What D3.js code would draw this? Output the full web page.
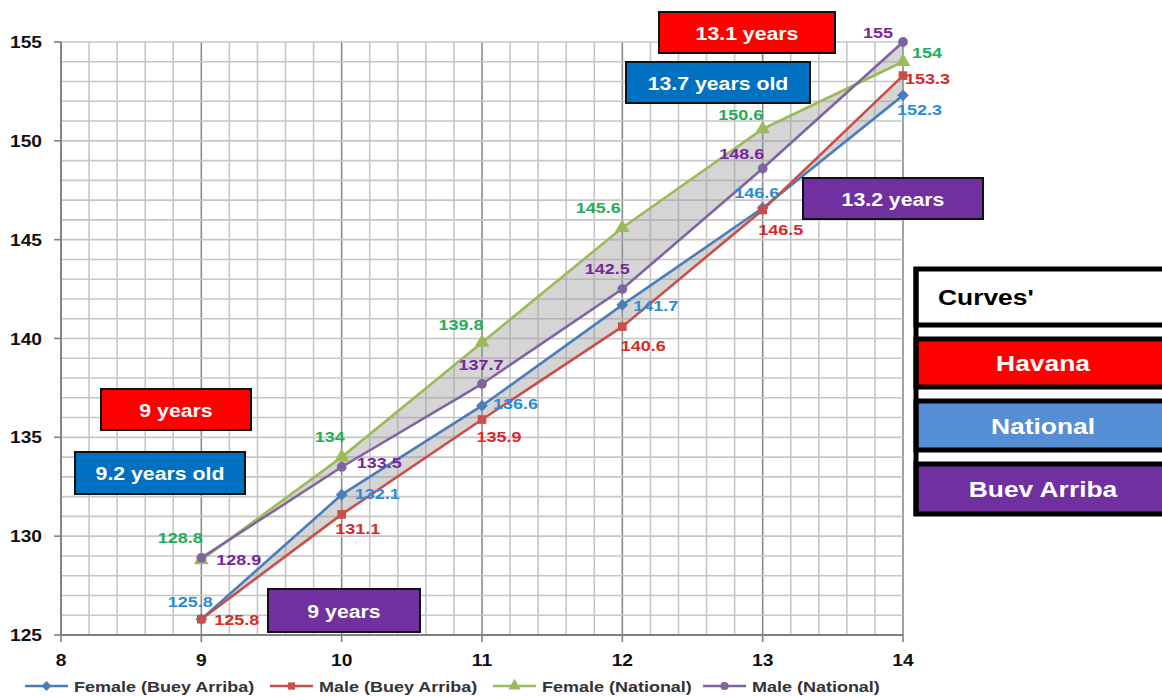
<!DOCTYPE html>
<html><head><meta charset="utf-8">
<script src="https://cdn.jsdelivr.net/npm/d3@7/dist/d3.min.js"></script>
<style>
html,body{margin:0;padding:0;background:#fff;}
svg{display:block;font-family:"Liberation Sans",Arial,sans-serif;}
</style></head>
<body>
<svg id="chart" width="1162" height="696"></svg>
<script>
// ---- data ----
const ages = [9, 10, 11, 12, 13, 14];
const femaleBA = [125.8, 132.1, 136.6, 141.7, 146.6, 152.3];
const maleBA   = [125.8, 131.1, 135.9, 140.6, 146.5, 153.3];
const femaleNat = [128.8, 134, 139.8, 145.6, 150.6, 154];
const maleNat   = [128.9, 133.5, 137.7, 142.5, 148.6, 155];
const seriesNames = ["Female (Buey Arriba)", "Male (Buey Arriba)", "Female (National)", "Male (National)"];
const xTicks = [8, 9, 10, 11, 12, 13, 14];
const yTicks = [125, 130, 135, 140, 145, 150, 155];
const boxTexts = ["13.1 years", "13.7 years old", "13.2 years", "9 years", "9.2 years old", "9 years"];
const legendBoxTexts = ["Curves'", "Havana", "National", "Buev Arriba"];

// ---- styling / layout ----
const lineColors = ["#4A7EBB", "#C8504B", "#9BBB59", "#8064A2"];
const labelColors = ["#2E8BD6", "#D42B2B", "#22AD5C", "#7A24A0"];
const symbols = [d3.symbolSquare, d3.symbolSquare, d3.symbolTriangle, d3.symbolCircle];
const symRot = [45, 0, 0, 0];
const symSizes = [70, 75, 95, 75];
// label placement per point: [dx, dy, anchor]
const labelPlace = [
  [[-11,-12,"middle"],[13,4,"start"],[11,3,"start"],[11,6,"start"],[-6,-10,"middle"],[-6,20,"start"]],
  [[13,6,"start"],[16,20,"middle"],[17,22,"middle"],[21,24,"middle"],[18,25,"middle"],[2,8,"start"]],
  [[-21,-17,"middle"],[-12,-15,"middle"],[-21,-12,"middle"],[-24,-15,"middle"],[-22,-9,"middle"],[9,-4,"start"]],
  [[15,7,"start"],[15,1,"start"],[-1,-14,"middle"],[-15,-15,"middle"],[-21,-10,"middle"],[-10,-4,"end"]]
];
const SX = 1.2; // horizontal stretch of the reference's text

const svg = d3.select("#chart");
const x = d3.scaleLinear().domain([8, 14]).range([61, 903]);
const y = d3.scaleLinear().domain([125, 155]).range([635, 42]);
const tr = (px, py, s) => `translate(${px},${py}) scale(${s},1)`;

// grid
const g = svg.append("g");
const minorX = d3.range(8, 14.0001, 0.2);
g.selectAll(".vx").data(minorX).enter().append("line")
  .attr("x1", d => x(d)).attr("x2", d => x(d)).attr("y1", y(155)).attr("y2", y(125))
  .attr("stroke", d => Math.abs(d - Math.round(d)) < 1e-6 ? "#8a8a8a" : "#c6c6c6")
  .attr("stroke-width", 1.6);
const minorY = d3.range(125, 155.001, 1);
g.selectAll(".hy").data(minorY).enter().append("line")
  .attr("x1", x(8)).attr("x2", x(14)).attr("y1", d => y(d)).attr("y2", d => y(d))
  .attr("stroke", "#c6c6c6").attr("stroke-width", 1.6);

// axes lines
g.append("line").attr("x1", x(8)).attr("x2", x(8)).attr("y1", y(155)).attr("y2", y(125)).attr("stroke", "#808080").attr("stroke-width", 1.8);
g.append("line").attr("x1", x(8)).attr("x2", x(14)).attr("y1", y(125)).attr("y2", y(125)).attr("stroke", "#808080").attr("stroke-width", 1.8);
g.selectAll(".yt").data(yTicks).enter().append("line")
  .attr("x1", x(8) - 7).attr("x2", x(8)).attr("y1", d => y(d)).attr("y2", d => y(d))
  .attr("stroke", "#808080").attr("stroke-width", 1.6);
g.selectAll(".xt").data(xTicks).enter().append("line")
  .attr("x1", d => x(d)).attr("x2", d => x(d)).attr("y1", y(125)).attr("y2", y(125) + 7)
  .attr("stroke", "#808080").attr("stroke-width", 1.6);
g.selectAll(".ytl").data(yTicks).enter().append("text")
  .attr("transform", d => tr(42, y(d) + 6, SX)).attr("text-anchor", "end")
  .attr("font-size", 16).attr("font-weight", "bold").attr("fill", "#111").text(d => d);
g.selectAll(".xtl").data(xTicks).enter().append("text")
  .attr("transform", d => tr(x(d), 666, SX)).attr("text-anchor", "middle")
  .attr("font-size", 16).attr("font-weight", "bold").attr("fill", "#111").text(d => d);

// shaded areas
const pts = (a) => ages.map((v, i) => ({ x: v, y: a[i] }));
const band = (lo, hi) => d3.area().x((d, i) => x(ages[i])).y0((d, i) => y(lo[i])).y1((d, i) => y(hi[i]));
svg.append("path").datum(ages).attr("d", band(maleNat, femaleNat)).attr("fill", "#9a9a9a").attr("opacity", 0.42);
svg.append("path").datum(ages).attr("d", band(maleBA, femaleBA)).attr("fill", "#9a9a9a").attr("opacity", 0.42);

// lines
const allSeries = [femaleBA, maleBA, femaleNat, maleNat];
const line = d3.line().x(d => x(d.x)).y(d => y(d.y));
const drawOrder = [2, 3, 0, 1];
drawOrder.forEach(si => {
  svg.append("path").datum(pts(allSeries[si])).attr("d", line)
    .attr("fill", "none").attr("stroke", lineColors[si]).attr("stroke-width", 2.6);
});
drawOrder.forEach(si => {
  svg.selectAll(null).data(pts(allSeries[si])).enter().append("path")
    .attr("d", d3.symbol().type(symbols[si]).size(symSizes[si]))
    .attr("transform", d => `translate(${x(d.x)},${y(d.y)}) rotate(${symRot[si]})`)
    .attr("fill", lineColors[si]);
});
// data labels
drawOrder.forEach(si => {
  svg.selectAll(null).data(pts(allSeries[si])).enter().append("text")
    .attr("transform", (d, i) => tr(x(d.x) + labelPlace[si][i][0], y(d.y) + labelPlace[si][i][1], SX))
    .attr("text-anchor", (d, i) => labelPlace[si][i][2])
    .attr("font-size", 15).attr("font-weight", "bold")
    .attr("fill", labelColors[si]).text(d => d.y);
});

// annotation boxes
const boxLayout = [
  { x: 659, y: 12, w: 176, h: 41, fill: "#FF0000" },
  { x: 626, y: 62, w: 184, h: 41, fill: "#0070C0" },
  { x: 803, y: 178, w: 180, h: 41, fill: "#7030A0" },
  { x: 101, y: 389, w: 150, h: 41, fill: "#FF0000" },
  { x: 75, y: 452, w: 170, h: 42, fill: "#0070C0" },
  { x: 268, y: 589, w: 152, h: 43, fill: "#7030A0" }
];
boxTexts.forEach((t, i) => {
  const b = boxLayout[i];
  svg.append("rect").attr("x", b.x).attr("y", b.y).attr("width", b.w).attr("height", b.h)
    .attr("fill", b.fill).attr("stroke", "#111").attr("stroke-width", 2);
  svg.append("text").attr("transform", tr(b.x + b.w / 2, b.y + b.h / 2 + 7, 1.15))
    .attr("text-anchor", "middle").attr("font-size", 18.5).attr("font-weight", "bold")
    .attr("fill", "#fff").text(t);
});

// right legend boxes
const lbLayout = [
  { y: 269, h: 56, fill: "#FFFFFF", color: "#000", anchor: "start", tx: 938 },
  { y: 339, h: 48, fill: "#FF0000", color: "#fff", anchor: "middle", tx: 1043 },
  { y: 401, h: 49, fill: "#558ED5", color: "#fff", anchor: "middle", tx: 1043 },
  { y: 464, h: 50, fill: "#7030A0", color: "#fff", anchor: "middle", tx: 1043 }
];
svg.append("rect").attr("x", 914).attr("y", 267).attr("width", 260).attr("height", 249).attr("fill", "#fff");
legendBoxTexts.forEach((t, i) => {
  const b = lbLayout[i];
  svg.append("rect").attr("x", 916).attr("y", b.y).attr("width", 260).attr("height", b.h)
    .attr("fill", b.fill).attr("stroke", "#000").attr("stroke-width", 5);
  svg.append("text").attr("transform", tr(b.tx, b.y + b.h / 2 + 8, 1.2))
    .attr("text-anchor", b.anchor).attr("font-size", 22).attr("font-weight", "bold")
    .attr("fill", b.color).text(t);
});
svg.append("line").attr("x1", 916).attr("x2", 916).attr("y1", 267).attr("y2", 516).attr("stroke", "#000").attr("stroke-width", 5);

// bottom legend
const legX = [25, 270, 493, 703];
seriesNames.forEach((n, i) => {
  const lg = svg.append("g").attr("transform", `translate(${legX[i]},686)`);
  lg.append("line").attr("x1", 0).attr("x2", 43).attr("y1", 0).attr("y2", 0)
    .attr("stroke", lineColors[i]).attr("stroke-width", 2.6);
  lg.append("path").attr("d", d3.symbol().type(symbols[i]).size(symSizes[i] * 0.7))
    .attr("transform", `translate(21.5,0) rotate(${symRot[i]})`).attr("fill", lineColors[i]);
  lg.append("text").attr("transform", tr(49, 5.5, SX)).attr("font-size", 15).attr("font-weight", "bold")
    .attr("fill", "#333").text(n);
});
</script>
</body></html>
